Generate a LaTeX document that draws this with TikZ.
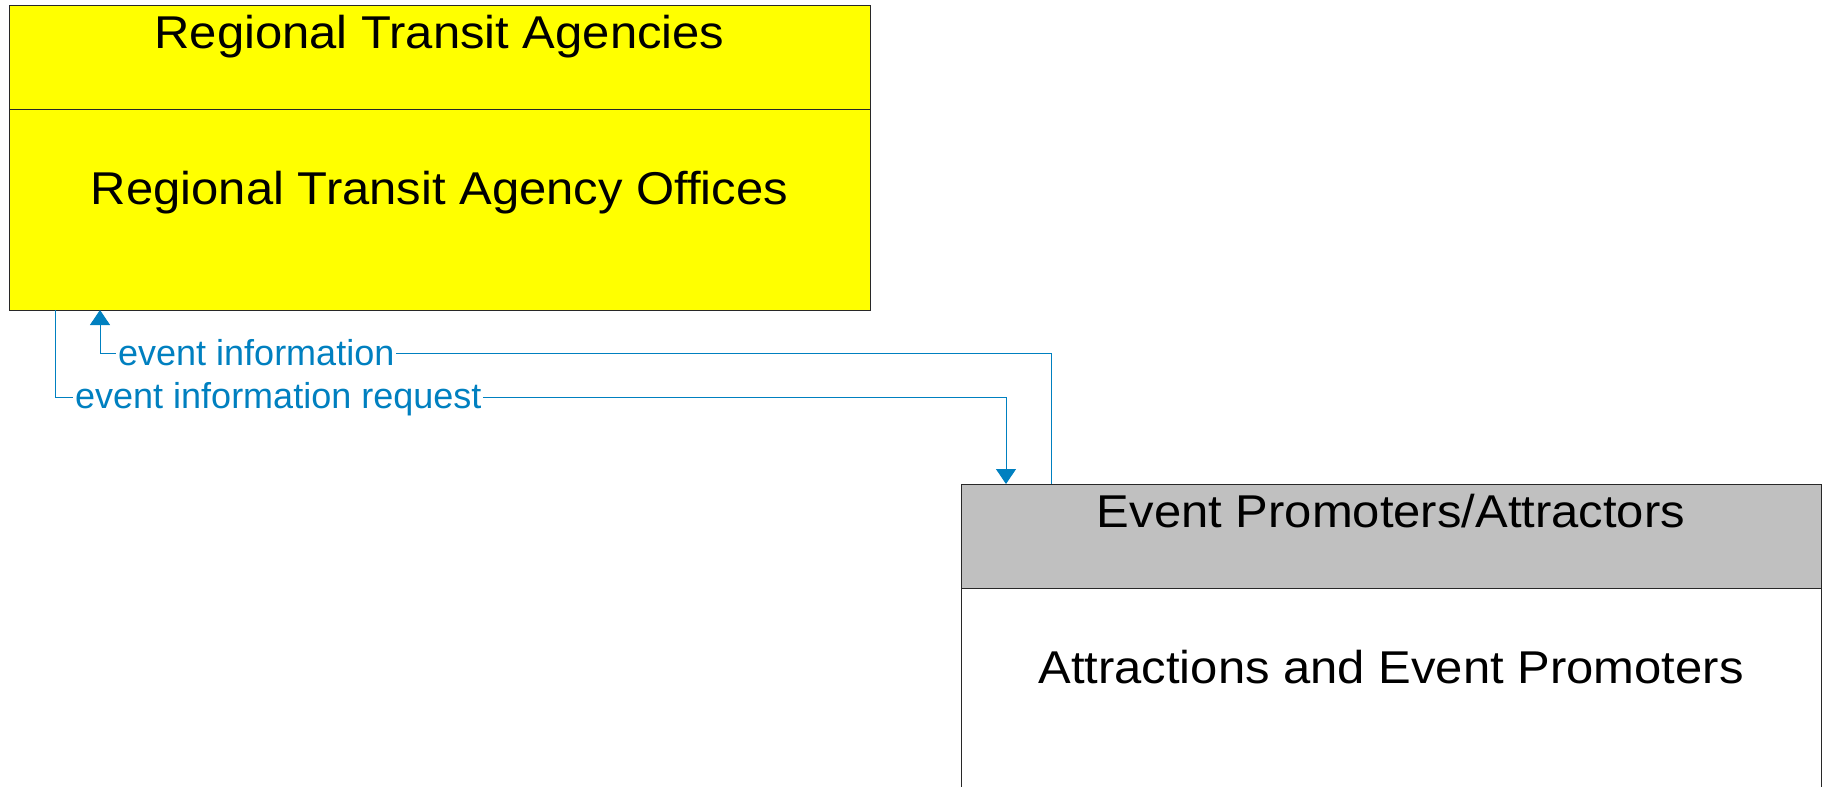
\documentclass[tikz,border=0pt]{standalone}
\usepackage{fontspec}
\setmainfont{Liberation Sans}
\newfontfamily\widesans[FakeStretch=1.065]{Liberation Sans}
\usetikzlibrary{arrows.meta,calc}
\definecolor{flowblue}{RGB}{0,128,192}
\definecolor{boxgray}{RGB}{192,192,192}
\definecolor{boxyellow}{RGB}{255,255,0}
\definecolor{edgegray}{RGB}{40,40,40}
\tikzset{
  boxshape/.style={draw=edgegray, line width=1pt, anchor=north west, inner sep=0pt, outer sep=0pt},
  bigtext/.style={anchor=base, font=\widesans\fontsize{46}{52}\selectfont, inner sep=0pt},
  flowlabel/.style={anchor=base west, font=\fontsize{36}{40}\selectfont, text=flowblue, fill=white, inner xsep=2pt, inner ysep=0pt},
  conn/.style={draw=flowblue, line width=1pt},
  tip/.style={-{Triangle[length=15pt,width=20pt]}}
}
\begin{document}
\begin{tikzpicture}[x=1pt,y=-1pt]
\clip (0,0) rectangle (1824,787);
\fill[white] (0,0) rectangle (1824,787);
% top box
\node[boxshape, fill=boxyellow, minimum width=861pt, minimum height=305pt] (rta) at (9,5) {};
\draw[draw=edgegray, line width=1pt] ($(rta.north west)+(0,104)$) -- ($(rta.north east)+(0,104)$);
\node[bigtext] (rtat) at (439.5,48) {Regional Transit Agencies};
\node[bigtext] (rtab) at (439.5,204) {Regional Transit Agency Offices};
% bottom box
\node[boxshape, fill=white, minimum width=860pt, minimum height=330pt] (ep) at (961,484) {};
\fill[boxgray] ($(ep.north west)+(0.5,0.5)$) rectangle ($(ep.north east)+(-0.5,104)$);
\draw[draw=edgegray, line width=1pt] ($(ep.north west)+(0,104)$) -- ($(ep.north east)+(0,104)$);
\draw[draw=edgegray, line width=1pt] (ep.south west) -- (ep.north west) -- (ep.north east) -- (ep.south east);
\node[bigtext] (ept) at (1391,527) {Event Promoters/Attractors};
\node[bigtext] (epb) at (1391,683) {Attractions and Event Promoters};
% connector helper coordinates
\coordinate (xa) at (1051,0);
\coordinate (xb) at (100,0);
\coordinate (xc) at (55,0);
\coordinate (xd) at (1006,0);
\coordinate (ya) at (0,353);
\coordinate (yb) at (0,397);
% event information
\draw[conn, tip] (xa |- ep.north) -- (ya -| xa) -- (ya -| xb) -- (xb |- rta.south);
\node[flowlabel] (l1) at (116,365) {event information};
% event information request
\draw[conn, tip] (xc |- rta.south) -- (yb -| xc) -- (yb -| xd) -- (xd |- ep.north);
\node[flowlabel] (l2) at (73,408) {event information request};
\end{tikzpicture}
\end{document}
